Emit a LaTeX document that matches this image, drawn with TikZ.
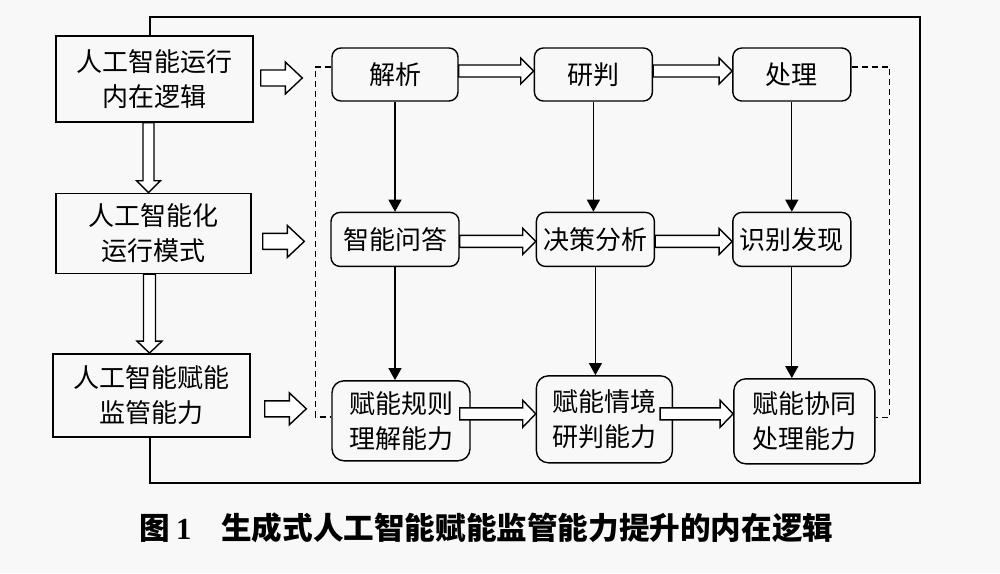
\documentclass[tikz,border=0pt]{standalone}
\usepackage{fontspec}
\setmainfont{Noto Sans CJK SC}
\newfontfamily\numfont{Liberation Serif}
\usepackage{tikz}
\usetikzlibrary{arrows.meta,positioning,calc}
\definecolor{bggray}{RGB}{248,248,248}

\begin{document}
\begin{tikzpicture}[
  x=0.5pt, y=-0.5pt,
  every node/.style={font=\fontsize{13pt}{17.5pt}\selectfont,inner sep=1pt},
  logic/.style={rectangle,draw,line width=0.7pt,align=center,
                minimum width=98.5pt,minimum height=42pt},
  proc/.style={rectangle,rounded corners=4.5pt,draw,line width=0.7pt,align=center,
               minimum width=59pt,minimum height=26.5pt},
  abil/.style={proc,rounded corners=6pt,minimum height=42pt},
  arrow/.style={-{Triangle[length=6pt,width=6.5pt]},line width=0.6pt},
  dashline/.style={dashed,dash pattern=on 3pt off 2pt,line width=0.75pt},
  frame/.style={line width=0.8pt},
  hfat/.style n args={3}{draw,fill=white,line width=0.7pt,
    to path={let \p1=(\tikztostart), \p2=(\tikztotarget) in
      (\x1,\y1+#1) -- (\x2-#3,\y1+#1) -- (\x2-#3,\y1+#2) -- (\x2,\y1)
      -- (\x2-#3,\y1-#2) -- (\x2-#3,\y1-#1) -- (\x1,\y1-#1) -- cycle}},
  vfat/.style n args={3}{draw,fill=white,line width=0.7pt,
    to path={let \p1=(\tikztostart), \p2=(\tikztotarget) in
      (\x1-#1,\y1) -- (\x1-#1,\y2+#3) -- (\x1-#2,\y2+#3) -- (\x1,\y2)
      -- (\x1+#2,\y2+#3) -- (\x1+#1,\y2+#3) -- (\x1+#1,\y1) -- cycle}}
]
\useasboundingbox (0,0) rectangle (1000,573);
\fill[bggray] (0,0) rectangle (1000,573);

% left column
\node[logic,minimum height=43pt] (L1) at (154.5,79) {人工智能运行\\内在逻辑};
\node[logic,minimum width=97.5pt,minimum height=40pt,below=35pt of L1,xshift=-0.5pt] (L2) {人工智能化\\运行模式};
\node[logic,minimum height=41.5pt,below=39.5pt of L2,xshift=-1pt] (L3) {人工智能赋能\\监管能力};

% process grid
\node[proc,minimum width=63pt] (p1) at (395,74.5) {解析};
\node[proc,right=37.5pt of p1] (p2) {研判};
\node[proc,right=39.5pt of p2] (p3) {处理};
\node[proc,minimum width=64pt,minimum height=27pt,below=55pt of p1] (q1) {智能问答};
\node[proc,minimum height=27pt,below=55pt of p2,xshift=1pt] (q2) {决策分析};
\node[proc,minimum height=27pt,below=55pt of p3] (q3) {识别发现};
\node[abil,minimum width=69pt,minimum height=40pt,below=56.5pt of q1,xshift=3pt] (r1) {赋能规则\\理解能力};
\node[abil,minimum width=68pt,minimum height=43.5pt,below=54pt of q2,xshift=4.5pt] (r2) {赋能情境\\研判能力};
\node[abil,minimum width=70.5pt,minimum height=42.5pt,below=55.5pt of q3,xshift=6.25pt] (r3) {赋能协同\\处理能力};

% outer frame
\coordinate (ftop) at (920,17);
\coordinate (fbot) at (920,483);
\draw[frame] ([xshift=-2.25pt]L1.north) |- (ftop) -- (fbot) -| ([xshift=-0.75pt]L3.south);

% dashed brackets
\draw[dashline] ([yshift=3.75pt]p1.west) -- ++(-8pt,0) coordinate (brk) |- ([yshift=2pt]r1.west);
\draw[dashline] ([yshift=3.75pt]p3.east) -- ++(19pt,0) |- ([yshift=2pt]r3.east);

% thin arrows
\draw[arrow] (p1.south) -- (p1.south |- q1.north);
\draw[arrow] (p2.south) -- (p2.south |- q2.north);
\draw[arrow] (p3.south) -- (p3.south |- q3.north);
\draw[arrow] (q1.south) -- (q1.south |- r1.north);
\draw[arrow] (q2.south) -- (q2.south |- r2.north);
\draw[arrow] (q3.south) -- (q3.south |- r3.north);

% hollow arrows
\draw[hfat={3pt}{6.5pt}{6.5pt}] ([yshift=1.75pt]p1.east) to (p2.west);
\draw[hfat={3pt}{6.5pt}{6.5pt}] ([yshift=1.75pt]p2.east) to (p3.west);
\draw[hfat={3pt}{6.5pt}{6.5pt}] ([yshift=-1pt]q1.east) to (q2.west);
\draw[hfat={3pt}{6.5pt}{6.5pt}] ([yshift=-1pt]q2.east) to (q3.west);
\draw[hfat={3pt}{6.75pt}{6.5pt}] ([xshift=-5.5pt,yshift=3.5pt]r1.east) to (r2.west);
\draw[hfat={3pt}{6.75pt}{6.5pt}] ([xshift=-6.5pt,yshift=2.75pt]r2.east) to (r3.west);

\draw[hfat={4pt}{8pt}{8.5pt}] ([xshift=3.5pt,yshift=0.5pt]L1.east) to ($(L1.east -| brk)+(-6.5pt,0)$);
\draw[hfat={4pt}{8pt}{8.5pt}] ([xshift=5.5pt,yshift=-4pt]L2.east) to ($(L2.east -| brk)+(-5.5pt,0)$);
\draw[hfat={4pt}{8pt}{8.5pt}] ([xshift=7pt,yshift=-6.75pt]L3.east) to ($(L3.east -| brk)+(-4.5pt,0)$);

\draw[vfat={2.75pt}{6pt}{6pt}] ([xshift=-3pt]L1.south) to (L2.north);
\draw[vfat={3pt}{6.25pt}{6pt}] ([xshift=-2pt]L2.south) to (L3.north);

% caption
\node[font=\fontsize{15.3pt}{18pt}\selectfont\bfseries,anchor=west] (cap) at (137,528)
  {图\hspace{3pt}{\numfont 1}\hspace{15pt}生成式人工智能赋能监管能力提升的内在逻辑};
\end{tikzpicture}
\end{document}
